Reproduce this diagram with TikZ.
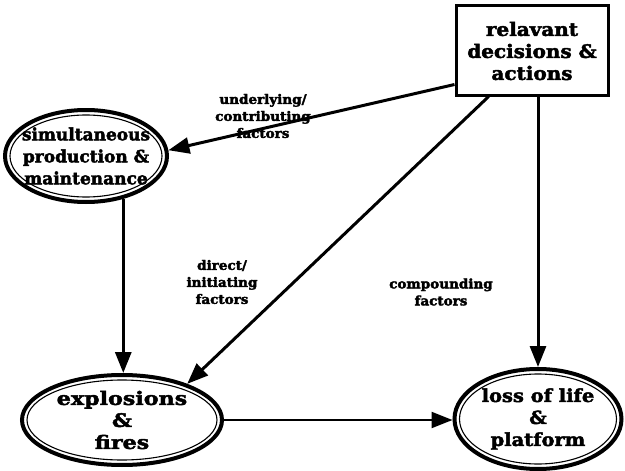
\documentclass[tikz,border=0pt]{standalone}
\usepackage{fontspec}
\setmainfont{DejaVu Serif}
% heavy serif faces used for all the diagram text
\newfontfamily\heavy[FakeBold=2.4]{DejaVu Serif Bold}
\newfontfamily\heavylbl[FakeBold=2.8, FakeStretch=1.04]{DejaVu Serif Bold}
\newfontfamily\heavywide[FakeBold=2.4, FakeStretch=1.2]{DejaVu Serif Bold}
\newfontfamily\heavyboxfont[FakeBold=2.4, FakeStretch=1.08]{DejaVu Serif Bold}
\usetikzlibrary{shapes.geometric, arrows.meta}
\begin{document}
\begin{tikzpicture}[x=1pt, y=-1pt,
  txt/.style={font=\heavy\fontsize{18}{22}\selectfont, align=center, inner sep=0pt},
  lbl/.style={font=\heavylbl\fontsize{13}{17}\selectfont, align=center, inner sep=0pt},
  boxnode/.style={draw, line width=3pt, minimum width=152pt, minimum height=90pt, inner sep=0pt},
  ellout/.style={ellipse, draw, line width=4pt, inner sep=0pt},
  ellin/.style={ellipse, draw, line width=1.1pt, inner sep=0pt},
  conn/.style={line width=3pt, -{Triangle[length=21pt, width=16pt]}},
]
\fill[white] (0,0) rectangle (625,471);
\useasboundingbox (0,0) rectangle (625,471);

% decision box
\node[boxnode] (box) at (532,50) {};
\node[txt, font=\heavyboxfont\fontsize{18.5}{22}\selectfont] (boxt) at (532,51) {relavant\\decisions \&\\actions};

% simultaneous production & maintenance
\node[ellout, minimum width=162pt, minimum height=92pt] (e1) at (86,156) {};
\node[ellin, minimum width=152pt, minimum height=82pt] (e1i) at (e1) {};
\node[txt, font=\heavy\fontsize{17}{22}\selectfont] (e1t) at (e1) {simultaneous\\production \&\\maintenance};

% explosions & fires
\node[ellout, minimum width=200pt, minimum height=90pt] (e2) at (122,420) {};
\node[ellin, minimum width=190pt, minimum height=80pt] (e2i) at (e2) {};
\node[txt, font=\heavywide\fontsize{18.5}{22}\selectfont] (e2t) at (e2) {explosions\\\&\\fires};

% loss of life & platform
\node[ellout, minimum width=167pt, minimum height=100pt] (e3) at (538,419) {};
\node[ellin, minimum width=157pt, minimum height=90pt] (e3i) at (e3) {};
\node[txt, font=\heavyboxfont\fontsize{18}{22}\selectfont] (e3t) at (e3) {loss of life\\\&\\platform};

% connectors
\draw[conn] (box.204) -- (e1.4);
\draw[conn] (box.227) -- (e2.29);
\draw[conn] (box.south -| e3.north) -- (e3.north);
\draw[conn] (e1.-49) -- (e1.-49 |- e2.north);
\draw[conn, line width=2.2pt] (e2.east) -- (e3.west |- e2.east);

% connector labels
\node[lbl] (l1) at (263,116) {underlying/\\contributing\\factors};
\node[lbl] (l2) at (222,282) {direct/\\initiating\\factors};
\node[lbl] (l3) at (441,292) {compounding\\factors};
\end{tikzpicture}
\end{document}
